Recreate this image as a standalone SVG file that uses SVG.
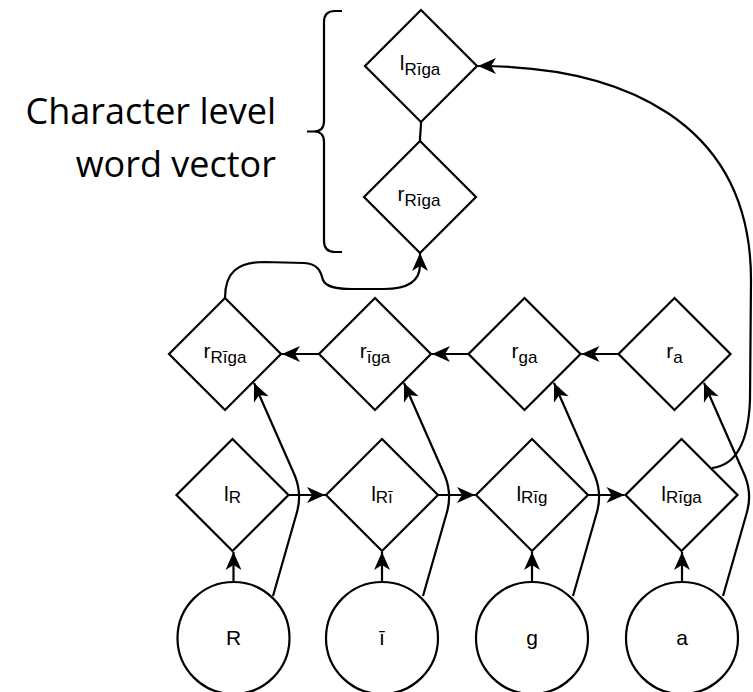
<svg xmlns="http://www.w3.org/2000/svg" width="753" height="692" viewBox="0 0 753 692">
  <style>
    .shape { fill: #ffffff; stroke: #000000; stroke-width: 2.2; }
    .link { fill: none; stroke: #000000; stroke-width: 2.2; stroke-linejoin: round; }
    .arrowed { marker-end: url(#arrow); }
    .lbl { font-family: "Liberation Sans", Arial, Helvetica, sans-serif; fill: #000000; text-anchor: middle; }
    .main { font-size: 21px; }
    .sub { font-size: 17px; }
    .char { font-family: "Liberation Sans", Arial, Helvetica, sans-serif; font-size: 21px; fill: #000000; text-anchor: middle; }
    .caption { font-family: "Open Sans", "Noto Sans", sans-serif; font-size: 36px; fill: #000000; text-anchor: end; }
  </style>
  <defs>
    <marker id="arrow" viewBox="-19 -10 20 20" refX="0" refY="0" markerWidth="20" markerHeight="20" markerUnits="userSpaceOnUse" orient="auto">
      <path d="M0,0 L-18,-8 L-13,0 L-18,8 Z" fill="#000000"/>
    </marker>
    <path id="diamond" d="M0,-56 L56,0 L0,56 L-56,0 Z"/>
  </defs>

  <rect width="753" height="692" fill="#ffffff"/>

  <!-- caption and curly bracket -->
  <g id="caption">
    <text class="caption" x="276" y="124">Character level</text>
    <text class="caption" x="276" y="177">word vector</text>
    <path class="link" d="M342,11 L335,11 Q324,11 324,22 L324,121 Q324,131.5 314,131.5 L307,131.5 M314,131.5 Q324,131.5 324,142 L324,241 Q324,252 335,252 L342,252"/>
  </g>

  <!-- connectors -->
  <g id="connectors">
    <!-- word vector halves -->
    <path class="link" d="M421,122 C421,130 420,133 420,141"/>
    <path class="link arrowed" d="M225,298 C225,272 238,262 264,262 L304,263 C320,264 321,274 323,280 C326,287 336,289 352,289 L384,289 C404,289 420,283 420,265 L420,253"/>
    <path class="link arrowed" d="M712,468 C730,466 748,452 750,400 L751,280 C751,120 620,66 478,66"/>

    <!-- inputs into forward cells -->
    <path class="link arrowed" d="M233.5,582 L233.5,552"/>
    <path class="link arrowed" d="M382,582 L382,552"/>
    <path class="link arrowed" d="M532,582 L532,552"/>
    <path class="link arrowed" d="M682,582 L682,552"/>

    <!-- forward chain -->
    <path class="link arrowed" d="M288.5,495 L325,495"/>
    <path class="link arrowed" d="M438,495 L475,495"/>
    <path class="link arrowed" d="M588,495 L624.5,495"/>

    <!-- backward chain -->
    <path class="link arrowed" d="M319,354 L282,354"/>
    <path class="link arrowed" d="M468.5,354 L432,354"/>
    <path class="link arrowed" d="M618.5,354 L581.5,354"/>

    <!-- inputs into backward cells -->
    <path class="link arrowed" d="M273,596 L297,512 Q302,494 295,476 L254,383"/>
    <path class="link arrowed" d="M423,596 L447,512 Q452,494 445,476 L404,383"/>
    <path class="link arrowed" d="M573,596 L597,512 Q602,494 595,476 L554,383"/>
    <path class="link arrowed" d="M723,596 L747,512 Q752,494 745,476 L704,383"/>
  </g>

  <!-- word vector cells -->
  <g id="node-l-riga-top">
    <use href="#diamond" class="shape" x="421" y="66"/>
    <text class="lbl" x="420" y="70"><tspan class="main">l</tspan><tspan class="sub" dy="5">Rīga</tspan></text>
  </g>
  <g id="node-r-riga-top">
    <use href="#diamond" class="shape" x="420" y="197"/>
    <text class="lbl" x="419" y="201"><tspan class="main">r</tspan><tspan class="sub" dy="5">Rīga</tspan></text>
  </g>

  <!-- backward cells -->
  <g id="node-r-riga">
    <use href="#diamond" class="shape" x="225" y="354"/>
    <text class="lbl" x="225" y="358"><tspan class="main">r</tspan><tspan class="sub" dy="5">Rīga</tspan></text>
  </g>
  <g id="node-r-iga">
    <use href="#diamond" class="shape" x="375" y="354"/>
    <text class="lbl" x="375" y="358"><tspan class="main">r</tspan><tspan class="sub" dy="5">īga</tspan></text>
  </g>
  <g id="node-r-ga">
    <use href="#diamond" class="shape" x="524.5" y="354"/>
    <text class="lbl" x="524.5" y="358"><tspan class="main">r</tspan><tspan class="sub" dy="5">ga</tspan></text>
  </g>
  <g id="node-r-a">
    <use href="#diamond" class="shape" x="674.5" y="354"/>
    <text class="lbl" x="674.5" y="358"><tspan class="main">r</tspan><tspan class="sub" dy="5">a</tspan></text>
  </g>

  <!-- forward cells -->
  <g id="node-l-r">
    <use href="#diamond" class="shape" x="232.5" y="495"/>
    <text class="lbl" x="232.5" y="501"><tspan class="main">l</tspan><tspan class="sub" dy="2">R</tspan></text>
  </g>
  <g id="node-l-ri">
    <use href="#diamond" class="shape" x="382" y="495"/>
    <text class="lbl" x="382" y="501"><tspan class="main">l</tspan><tspan class="sub" dy="2">Rī</tspan></text>
  </g>
  <g id="node-l-rig">
    <use href="#diamond" class="shape" x="532" y="495"/>
    <text class="lbl" x="532" y="501"><tspan class="main">l</tspan><tspan class="sub" dy="2">Rīg</tspan></text>
  </g>
  <g id="node-l-riga">
    <use href="#diamond" class="shape" x="681.5" y="495"/>
    <text class="lbl" x="681.5" y="501"><tspan class="main">l</tspan><tspan class="sub" dy="2">Rīga</tspan></text>
  </g>

  <!-- character inputs -->
  <g id="node-char-r">
    <circle class="shape" cx="233.5" cy="638" r="56"/>
    <text class="char" x="233.5" y="645">R</text>
  </g>
  <g id="node-char-i">
    <circle class="shape" cx="382" cy="638" r="56"/>
    <text class="char" x="382" y="645">ī</text>
  </g>
  <g id="node-char-g">
    <circle class="shape" cx="532" cy="638" r="56"/>
    <text class="char" x="532" y="645">g</text>
  </g>
  <g id="node-char-a">
    <circle class="shape" cx="682" cy="638" r="56"/>
    <text class="char" x="682" y="645">a</text>
  </g>
</svg>
